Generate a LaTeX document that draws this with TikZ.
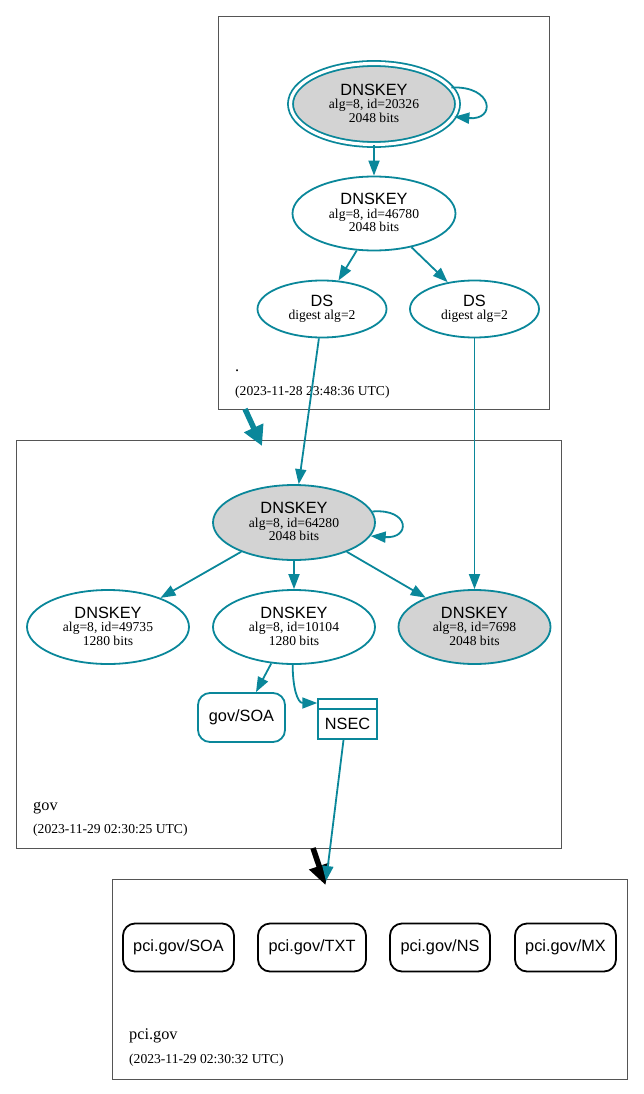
\documentclass[tikz,border=0pt]{standalone}
\usepackage{fontspec}
\setmainfont{Liberation Serif}
\setsansfont{Liberation Sans}
\usetikzlibrary{shapes.geometric,arrows.meta,calc}
\definecolor{sec}{HTML}{0A879A}
\definecolor{kfill}{HTML}{D3D3D3}
\definecolor{clus}{HTML}{555555}
\newcommand\bigf{\fontsize{16.3}{13.5}\selectfont\sffamily}
\newcommand\smf{\fontsize{13.6}{13.5}\selectfont\rmfamily}
\newcommand\klab[3]{\bigf #1\\\smf #2\\\smf #3\rule[-2pt]{0pt}{2pt}}
\begin{document}
\begin{tikzpicture}[x=1pt,y=1pt,
  key/.style={ellipse, draw=sec, line width=1.8pt, inner sep=0pt, align=center, font=\smf},
  edge/.style={draw=sec, line width=1.8pt, -{Triangle[length=15pt,width=11pt]}},
  clusterbox/.style={draw=clus, line width=0.8pt, rectangle, inner sep=0pt},
  rr/.style={rectangle, rounded corners=12pt, line width=1.8pt, font=\bigf, inner sep=0pt},
  clab/.style={anchor=base west, inner sep=0pt, font=\fontsize{16.3}{16}\selectfont\rmfamily},
  dlab/.style={anchor=base west, inner sep=0pt, font=\fontsize{13.6}{14}\selectfont\rmfamily},
  thick arrow/.style={line width=5.5pt, -{Triangle[length=20pt,width=20pt]}}
]
\useasboundingbox (0,0) rectangle (643,-1094);

% clusters
\node[clusterbox, minimum width=331, minimum height=393] (root) at (383.5,-212.5) {};
\node[clusterbox, minimum width=545, minimum height=408] (gov) at (288.5,-644) {};
\node[clusterbox, minimum width=515, minimum height=200] (pci) at (369.5,-979) {};

\node[clab] (rname) at (235,-371) {.};
\node[dlab] (rdate) at (235,-395) {(2023-11-28 23:48:36 UTC)};
\node[clab] (gname) at (33,-810) {gov};
\node[dlab] (gdate) at (33,-833.5) {(2023-11-29 02:30:25 UTC)};
\node[clab] (pname) at (129,-1039) {pci.gov};
\node[dlab] (pdate) at (129,-1063) {(2023-11-29 02:30:32 UTC)};

% root zone
\node[key, fill=kfill, double=white, double distance=3.2pt, minimum width=167, minimum height=81] (rk) at (374,-104) {\klab{DNSKEY}{alg=8, id=20326}{2048 bits}};
\node[key, minimum width=163, minimum height=74] (rz) at (374,-213.5) {\klab{DNSKEY}{alg=8, id=46780}{2048 bits}};
\node[key, minimum width=129, minimum height=57] (dsl) at (322,-309) {\bigf DS\\\smf digest alg=2};
\node[key, minimum width=129, minimum height=57] (dsr) at (474.5,-309) {\bigf DS\\\smf digest alg=2};

% gov zone
\node[key, fill=kfill, minimum width=162, minimum height=75] (gk) at (294,-522.5) {\klab{DNSKEY}{alg=8, id=64280}{2048 bits}};
\node[key, minimum width=162, minimum height=74] (g1) at (108,-627) {\klab{DNSKEY}{alg=8, id=49735}{1280 bits}};
\node[key, minimum width=162, minimum height=74] (g2) at (294,-627) {\klab{DNSKEY}{alg=8, id=10104}{1280 bits}};
\node[key, fill=kfill, minimum width=152, minimum height=74] (g3) at (474.5,-627) {\klab{DNSKEY}{alg=8, id=7698}{2048 bits}};
\node[rr, draw=sec, minimum width=87, minimum height=49] (soa) at (241.5,-717.5) {gov/SOA};
\node[draw=sec, line width=2pt, minimum width=58.5, minimum height=40, inner sep=0pt, font=\bigf] (nsec) at (347.5,-719) {\raisebox{-5pt}[\height][\depth]{NSEC}};
\draw[draw=sec, line width=2pt] ($(nsec.north west)+(0,-11)$) -- ($(nsec.north east)+(0,-11)$);

% pci.gov zone
\node[rr, draw=black, minimum width=111, minimum height=48] (psoa) at (178.5,-947.5) {pci.gov/SOA};
\node[rr, draw=black, minimum width=108, minimum height=48] (ptxt) at (312,-947.5) {pci.gov/TXT};
\node[rr, draw=black, minimum width=100, minimum height=48] (pns) at (440,-947.5) {pci.gov/NS};
\node[rr, draw=black, minimum width=101, minimum height=48] (pmx) at (565.5,-947.5) {pci.gov/MX};

% edges
\draw[edge] (rk.12) .. controls +(42,2) and +(42,-4) .. (rk.-9);
\draw[edge] (rk.south) -- (rz.north);
\draw[edge] (rz.245) -- (dsl.60);
\draw[edge] (rz.-42) -- (dsr.135);
\draw[edge] (dsl.-96) -- (gk.83);
\draw[edge] (dsr.south) -- (g3.north);
\draw[edge] (gk.8) .. controls +(38,3) and +(40,-3) .. (gk.-10);
\draw[edge] (gk.209.6) -- (g1.29);
\draw[edge] (gk.south) -- (g2.north);
\draw[edge] (gk.-29.6) -- (g3.149);
\draw[edge] (g2.238) -- ($(soa.north)+(14.5,0)$);
\draw[edge] (g2.268) .. controls +(0,-22) and +(-20,0) .. ($(nsec.north west)+(0,-5)$);

\coordinate (ta) at (245,-409);
\coordinate (tb) at (262,-446);
\coordinate (ba) at (313,-848);
\coordinate (bb) at (325.5,-885);
\coordinate (pin) at (326,-881);
\draw[thick arrow, sec] (ta) -- (tb);
\draw[thick arrow, black] (ba) -- (bb);
\draw[edge] ($(nsec.south)+(-4,0)$) -- (pin);
\end{tikzpicture}
\end{document}
